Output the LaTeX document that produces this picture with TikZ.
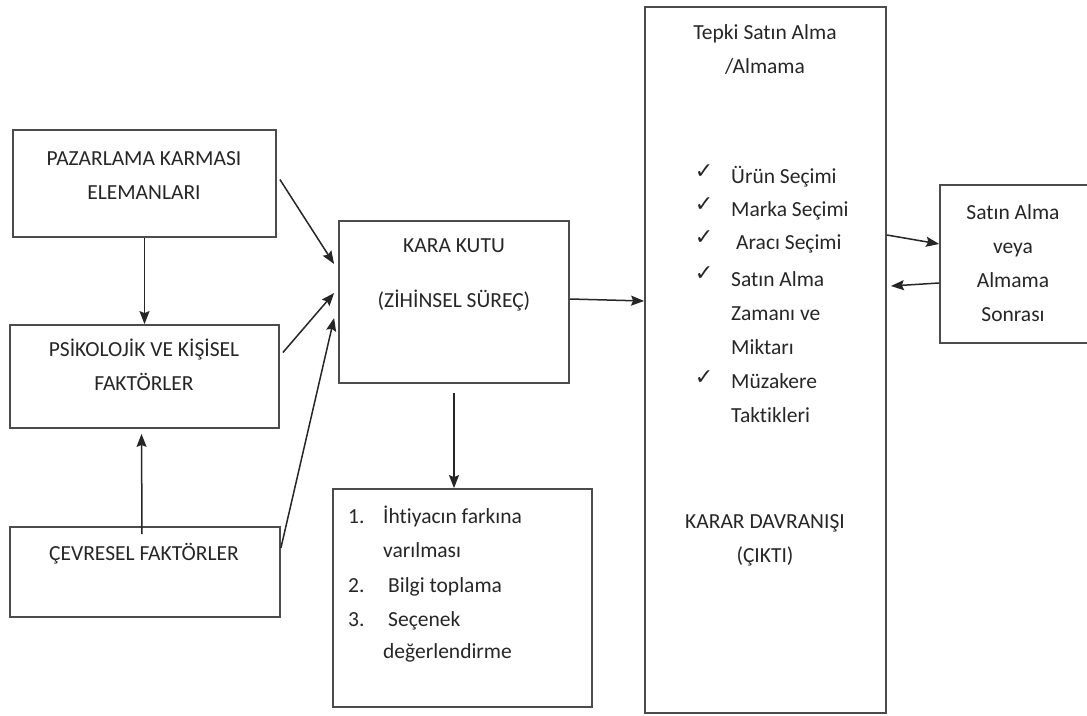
\documentclass[tikz,border=0pt]{standalone}
\usepackage{fontspec}
\setmainfont{Carlito}[Ligatures=NoCommon]
\newfontfamily\tikfont{DejaVu Sans}
\usetikzlibrary{arrows.meta}
\begin{document}
\begin{tikzpicture}[x=1pt,y=-1pt,>={Stealth[length=13pt,width=10pt,inset=2pt]},
		kutu/.style={draw=black!70,line width=1.8pt,inner sep=0pt},
		yazi/.style={font=\fontsize{21.5}{34}\selectfont,text=black!85,inner sep=0pt,align=center,anchor=base},
		sol/.style={yazi,anchor=base west},
		tik/.style={font=\tikfont\fontsize{22}{22}\selectfont,text=black!85,inner sep=0pt},
		ok/.style={->,line width=1.5pt,draw=black!85}]
	\useasboundingbox (0,0) rectangle (1087,715);
	% kutular
	\node[kutu,minimum width=263,minimum height=107] (paz) at (144.5,183.5) {};
	\node[kutu,minimum width=269,minimum height=103] (psi) at (144.5,376.5) {};
	\node[kutu,minimum width=270,minimum height=90] (cev) at (145,572) {};
	\node[kutu,minimum width=230,minimum height=162] (kara) at (454,302) {};
	\node[kutu,minimum width=259,minimum height=218] (liste) at (462.5,598) {};
	\node[kutu,minimum width=241,minimum height=706] (karar) at (765.5,360) {};
	\node[kutu,minimum width=152,minimum height=158] (sonra) at (1016,264) {};

	% yazilar (cok satirlida y son satir)
	\node[yazi] (pazT) at (144,199) {PAZARLAMA KARMASI\\ELEMANLARI};
	\node[yazi] (psiT) at (144,390) {PSİKOLOJİK VE KİŞİSEL\\FAKTÖRLER};
	\node[yazi] (cevT) at (144,560) {ÇEVRESEL FAKTÖRLER};
	\node[yazi] (karaT1) at (454,252) {KARA KUTU};
	\node[yazi] (karaT2) at (454,307) {(ZİHİNSEL SÜREÇ)};
	\node[yazi] (sonraT) at (1013,321) {Satın Alma\\veya\\Almama\\Sonrası};
	\node[yazi] (tepki) at (765,73) {Tepki Satın Alma\\/Almama};
	\node[yazi] (cikti) at (765,562) {KARAR DAVRANIŞI\\(ÇIKTI)};

	% liste
	\node[sol] (n1) at (348,523) {1.};
	\node[sol] (a1) at (383,523) {İhtiyacın farkına};
	\node[sol] (a1b) at (383,557) {varılması};
	\node[sol] (n2) at (348,592) {2.};
	\node[sol] (a2) at (388,592) {Bilgi toplama};
	\node[sol] (n3) at (348,626) {3.};
	\node[sol] (a3) at (388,626) {Seçenek};
	\node[sol] (a3b) at (383,658) {değerlendirme};

	% secimler
	\node[tik] (t1) at (704,172) {✓};
	\node[tik] (t2) at (704,205) {✓};
	\node[tik] (t3) at (704,238) {✓};
	\node[tik] (t4) at (704,274) {✓};
	\node[tik] (t5) at (704,378) {✓};
	\node[sol] (s1) at (731,183) {Ürün Seçimi};
	\node[sol] (s2) at (731,216) {Marka Seçimi};
	\node[sol] (s3) at (736,249) {Aracı Seçimi};
	\node[sol] (s4) at (731,286) {Satın Alma};
	\node[sol] (s4b) at (731,320) {Zamanı ve};
	\node[sol] (s4c) at (731,354) {Miktarı};
	\node[sol] (s5) at (731,388) {Müzakere};
	\node[sol] (s5b) at (731,422) {Taktikleri};

	% oklar
	\draw[ok] (paz.south)--(psi.north);
	\draw[ok] ([xshift=-3pt,yshift=-8pt]cev.north)--([xshift=-3pt,yshift=-5pt]psi.south);
	\draw[ok] ([xshift=3pt,yshift=4pt]paz.east)--([xshift=-4pt,yshift=38pt]kara.west);
	\draw[ok] ([xshift=3pt,yshift=24pt]psi.east)--([xshift=-4pt,yshift=9pt]kara.west);
	\draw[ok] ([yshift=24pt]cev.east)--([xshift=-4pt,yshift=-16pt]kara.west);
	\draw[ok] ([yshift=-9pt]kara.south)--(kara.south |- liste.north);
	\draw[ok] ([yshift=3pt]kara.east)--([yshift=1pt]kara.east -| karar.west);
	\draw[ok] ([yshift=125pt]karar.east)--([yshift=20pt]sonra.west);
	\draw[ok] ([yshift=-19pt]sonra.west)--([xshift=4pt,yshift=74pt]karar.east);
\end{tikzpicture}
\end{document}
